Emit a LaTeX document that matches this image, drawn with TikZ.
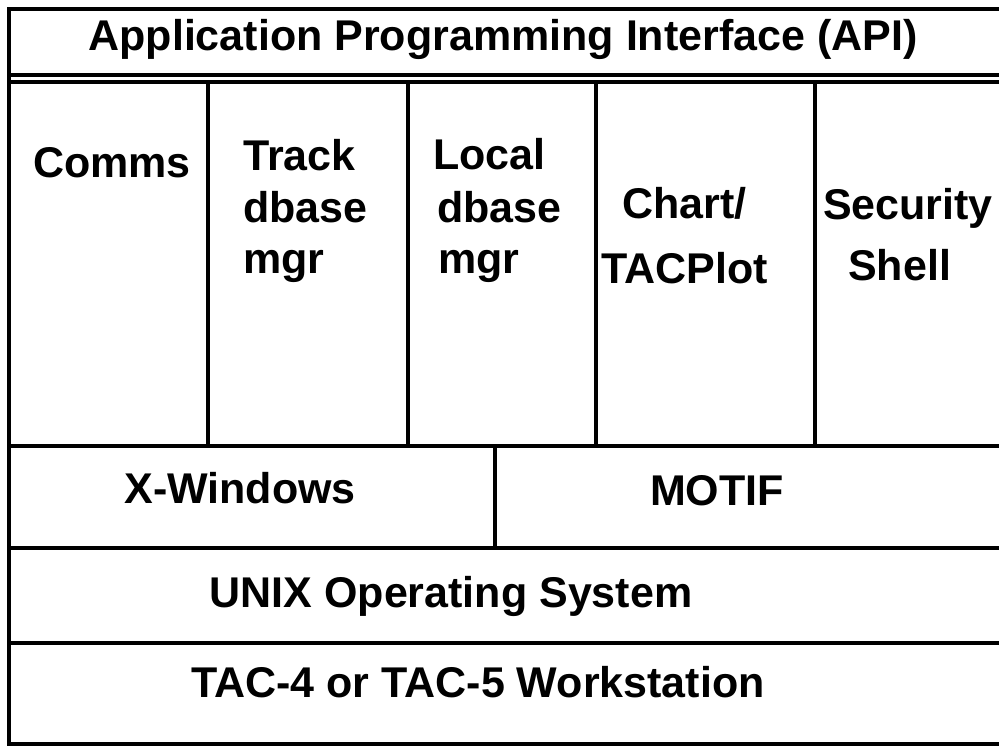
\documentclass[tikz,border=0pt]{standalone}
\usepackage{fontspec}
\setmainfont{Liberation Sans}
\begin{document}
\begin{tikzpicture}[x=1pt,y=-1pt,
  rule/.style={line width=3.5pt, line cap=rect},
  lbl/.style={inner sep=0pt, font=\fontsize{43}{50}\selectfont\bfseries},
  lblw/.style={lbl, anchor=base west},
  lblc/.style={lbl, anchor=base}]
\useasboundingbox (0,0) rectangle (999,748);
% frame and layer rules
\coordinate (tl) at (9,9);
\coordinate (tr) at (999,9);
\coordinate (bl) at (9,744);
\coordinate (br) at (999,744);
\draw[rule] (tr) -- (tl) -- (bl) -- (br);
\draw[rule] (9,75) -- (999,75);
\draw[rule] (9,82) -- (999,82);
\draw[rule] (9,446) -- (999,446);
\draw[rule] (9,548) -- (999,548);
\draw[rule] (9,643) -- (999,643);
% module dividers
\foreach \xx in {208,408,596,815} \draw[rule] (\xx,82) -- (\xx,446);
\draw[rule] (495,446) -- (495,548);
% texts
\node[lblc] (api) at (503,50) {Application Programming Interface (API)};
\node[lblw] (comms) at (33,177) {Comms};
\node[lblw] (track1) at (243,170) {Track};
\node[lblw] (track2) at (243,222) {dbase};
\node[lblw] (track3) at (243,273) {mgr};
\node[lblw] (local1) at (433,169) {Local};
\node[lblw] (local2) at (437,222) {dbase};
\node[lblw] (local3) at (438,273) {mgr};
\node[lblw] (chart1) at (622,218) {Chart/};
\node[lblw] (chart2) at (601,283) {TACPlot};
\node[lblw] (sec1) at (823,219) {Security};
\node[lblw] (sec2) at (848,280) {Shell};
\node[lblc] (xwin) at (240,503) {X-Windows};
\node[lblc] (motif) at (717,505) {MOTIF};
\node[lblc] (unix) at (451,607) {UNIX Operating System};
\node[lblc] (tac) at (478,697) {TAC-4 or TAC-5 Workstation};
\end{tikzpicture}
\end{document}
